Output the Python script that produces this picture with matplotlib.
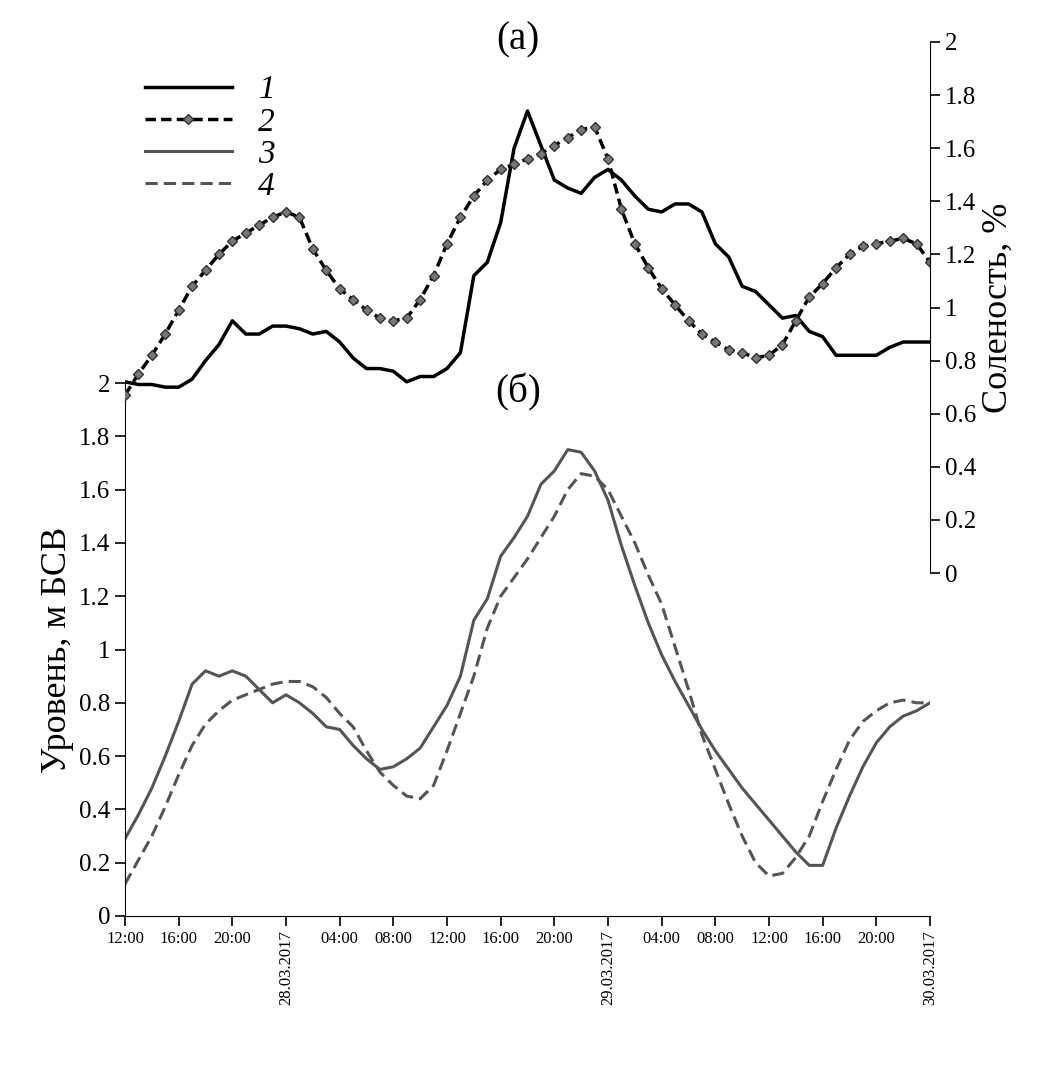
import matplotlib
matplotlib.use("Agg")
import matplotlib.pyplot as plt
import numpy as np

plt.rcParams['font.family'] = ['Liberation Serif', 'DejaVu Serif']

hours = list(range(61))
tick_hours = list(range(0, 61, 4))
tick_labels = ["12:00","16:00","20:00","28.03.2017","04:00","08:00","12:00","16:00","20:00",
               "29.03.2017","04:00","08:00","12:00","16:00","20:00","30.03.2017"]

sal1 = [0.72,0.71,0.71,0.70,0.70,0.73,0.80,0.86,0.95,0.90,0.90,0.93,0.93,0.92,0.90,0.91,0.87,0.81,0.77,0.77,
        0.76,0.72,0.74,0.74,0.77,0.83,1.12,1.17,1.32,1.60,1.74,1.61,1.48,1.45,1.43,1.49,1.52,1.48,1.42,1.37,
        1.36,1.39,1.39,1.36,1.24,1.19,1.08,1.06,1.01,0.96,0.97,0.91,0.89,0.82,0.82,0.82,0.82,0.85,0.87,0.87,0.87]
sal2 = [0.67,0.75,0.82,0.90,0.99,1.08,1.14,1.20,1.25,1.28,1.31,1.34,1.36,1.34,1.22,1.14,1.07,1.03,0.99,0.96,
        0.95,0.96,1.03,1.12,1.24,1.34,1.42,1.48,1.52,1.54,1.56,1.58,1.61,1.64,1.67,1.68,1.56,1.37,1.24,1.15,
        1.07,1.01,0.95,0.90,0.87,0.84,0.83,0.81,0.82,0.86,0.95,1.04,1.09,1.15,1.20,1.23,1.24,1.25,1.26,1.24,1.17]
lev3 = [0.29,0.38,0.48,0.60,0.73,0.87,0.92,0.90,0.92,0.90,0.85,0.80,0.83,0.80,0.76,0.71,0.70,0.64,0.59,0.55,
        0.56,0.59,0.63,0.71,0.79,0.90,1.11,1.19,1.35,1.42,1.50,1.62,1.67,1.75,1.74,1.67,1.56,1.39,1.24,1.10,
        0.98,0.88,0.79,0.70,0.62,0.55,0.48,0.42,0.36,0.30,0.24,0.19,0.19,0.33,0.45,0.56,0.65,0.71,0.75,0.77,0.80]
lev4 = [0.12,0.21,0.30,0.41,0.53,0.64,0.72,0.77,0.81,0.83,0.85,0.87,0.88,0.88,0.86,0.82,0.76,0.71,0.62,0.54,
        0.49,0.45,0.44,0.49,0.62,0.76,0.90,1.08,1.20,1.27,1.34,1.42,1.50,1.60,1.66,1.65,1.60,1.50,1.40,1.28,
        1.17,1.01,0.85,0.68,0.55,0.42,0.30,0.20,0.15,0.16,0.22,0.30,0.43,0.55,0.66,0.73,0.77,0.80,0.81,0.80,0.80]

W, H = 1043, 1075
fig = plt.figure(figsize=(W/100, H/100), dpi=100)
x0, x1 = 125/W, 930/W
axL = fig.add_axes([x0, (H-916)/H, x1-x0, (916-383)/H])
axR = fig.add_axes([x0, (H-573)/H, x1-x0, (573-42)/H])
axR.patch.set_alpha(0)

def hx(a): return hours[:len(a)]

axL.plot(hx(lev3), lev3, color='#555555', lw=2.2, label='3')
axL.plot(hx(lev4), lev4, color='#555555', lw=2.2, ls=(0, (4, 2)), label='4')
axR.plot(hx(sal1), sal1, color='black', lw=2.5, label='1')
axR.plot(hx(sal2), sal2, color='black', lw=2.5, ls=(0, (3, 1.5)), marker='D', ms=5,
         mfc='#777777', mec='#333333', label='2')

for ax in (axL, axR):
    ax.set_xlim(0, 60)
    ax.set_ylim(0, 2)
    for s in ax.spines.values():
        s.set_visible(False)
    ax.tick_params(labelsize=18, width=1.2, length=7)

axL.spines['left'].set_visible(True)
axL.spines['bottom'].set_visible(True)
axL.set_yticks(np.arange(0, 2.01, 0.2))
axL.set_yticklabels(['0','0.2','0.4','0.6','0.8','1','1.2','1.4','1.6','1.8','2'])
axL.set_xticks(tick_hours)
axL.set_xticklabels(tick_labels, fontsize=12)
for i, lab in enumerate(axL.get_xticklabels()):
    if '.' in tick_labels[i]:
        lab.set_rotation(90)
axL.set_ylabel('Уровень, м БСВ', fontsize=26)

axR.spines['right'].set_visible(True)
axR.yaxis.tick_right()
axR.yaxis.set_label_position('right')
axR.set_xticks([])
axR.set_yticks(np.arange(0, 2.01, 0.2))
axR.set_yticklabels(['0','0.2','0.4','0.6','0.8','1','1.2','1.4','1.6','1.8','2'])
axR.set_ylabel('Соленость, %', fontsize=26)

fig.text(518/W, 1-40/H, '(a)', fontsize=28, ha='center', va='center')
fig.text(518/W, 1-392/H, '(б)', fontsize=28, ha='center', va='center')

handles = axR.get_lines() + axL.get_lines()
leg = fig.legend(handles, ['1', '2', '3', '4'], loc='upper left', bbox_to_anchor=(115/W, 1-45/H),
                 frameon=False, handlelength=2.6, labelspacing=0.05,
                 prop={'style': 'italic', 'size': 24})

fig.savefig('out.png', dpi=100)
